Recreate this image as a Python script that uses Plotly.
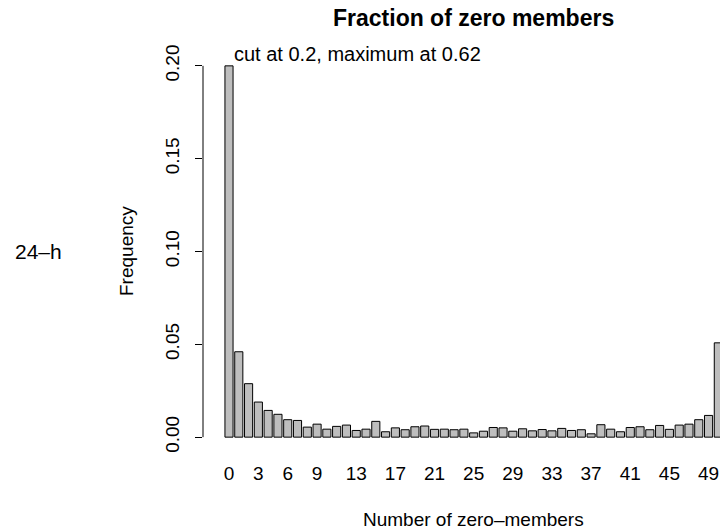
import numpy as np
import plotly.graph_objects as go

# ---- data ----
n_zero = list(range(0, 51))
frequency = [0.62, 0.046, 0.0288, 0.0189, 0.0144, 0.0123, 0.0094, 0.009, 0.0054, 0.007,
             0.0043, 0.0058, 0.0065, 0.0036, 0.0043, 0.0085, 0.0029, 0.005, 0.004, 0.0056,
             0.006, 0.0042, 0.0043, 0.004, 0.0043, 0.0023, 0.0032, 0.0052, 0.005, 0.0032,
             0.0045, 0.0034, 0.0041, 0.0034, 0.0047, 0.0036, 0.004, 0.0018, 0.0067, 0.0043,
             0.0029, 0.0052, 0.0056, 0.004, 0.0063, 0.0042, 0.0065, 0.007, 0.0094, 0.0117,
             0.0508]
cut = 0.2
x_tick_vals = [0, 3, 6, 9, 13, 17, 21, 25, 29, 33, 37, 41, 45, 49]
y_tick_vals = [0.0, 0.05, 0.10, 0.15, 0.20]
y_tick_text = ["0.00", "0.05", "0.10", "0.15", "0.20"]

shown = np.minimum(np.array(frequency), cut)

FONT = "Liberation Sans, Arial, Helvetica, sans-serif"
W, H = 720, 532
L, R, T, B = 203, 0, 51, 80
PW, PH = W - L - R, H - T - B


def px(xp):
    return (xp - L) / PW


def py(yp):
    return (H - B - yp) / PH


fig = go.Figure()
fig.add_trace(go.Bar(
    x=n_zero, y=shown, width=0.83,
    marker=dict(color="#BEBEBE", line=dict(color="black", width=1)),
    hoverinfo="x+y",
))

fig.update_layout(
    width=W, height=H,
    margin=dict(l=L, r=R, t=T, b=B, pad=0),
    paper_bgcolor="white", plot_bgcolor="white",
    showlegend=False,
    font=dict(family=FONT, size=19, color="black"),
    xaxis=dict(
        range=[-2.657, 50.17], showgrid=False, zeroline=False, showline=False,
        tickmode="array", tickvals=x_tick_vals, ticktext=[str(v) for v in x_tick_vals],
        ticks="", tickfont=dict(size=19), ticklabelstandoff=8,
    ),
    yaxis=dict(
        range=[-0.008, 0.208], showgrid=False, zeroline=False, showline=False,
        tickmode="array", tickvals=y_tick_vals, ticktext=y_tick_text,
        ticks="outside", ticklen=7, tickwidth=1, tickcolor="black",
        tickangle=-90, tickfont=dict(size=19), ticklabelstandoff=8,
    ),
    shapes=[dict(type="line", xref="paper", yref="y", x0=0, x1=0, y0=0, y1=0.2,
                 line=dict(color="black", width=1))],
    annotations=[
        dict(text="<b>Fraction of zero members</b>", xref="paper", yref="paper",
             x=px(473.5), y=py(18), showarrow=False, font=dict(size=23),
             xanchor="center", yanchor="middle"),
        dict(text="cut at 0.2, maximum at 0.62", xref="paper", yref="paper",
             x=px(232), y=py(54), showarrow=False, font=dict(size=20),
             xanchor="left", yanchor="middle"),
        dict(text="Number of zero\u2013members", xref="paper", yref="paper",
             x=px(473.5), y=py(519), showarrow=False, font=dict(size=19),
             xanchor="center", yanchor="middle"),
        dict(text="Frequency", xref="paper", yref="paper",
             x=px(126), y=py(251), showarrow=False, font=dict(size=19),
             textangle=-90, xanchor="center", yanchor="middle"),
        dict(text="24\u2013h", xref="paper", yref="paper",
             x=px(38), y=py(251.5), showarrow=False, font=dict(size=21),
             xanchor="center", yanchor="middle"),
    ],
)

fig.write_html(
    "out.html",
    config={"displayModeBar": False},
    post_script="document.body.style.margin='0px';document.body.style.overflow='hidden';",
)
